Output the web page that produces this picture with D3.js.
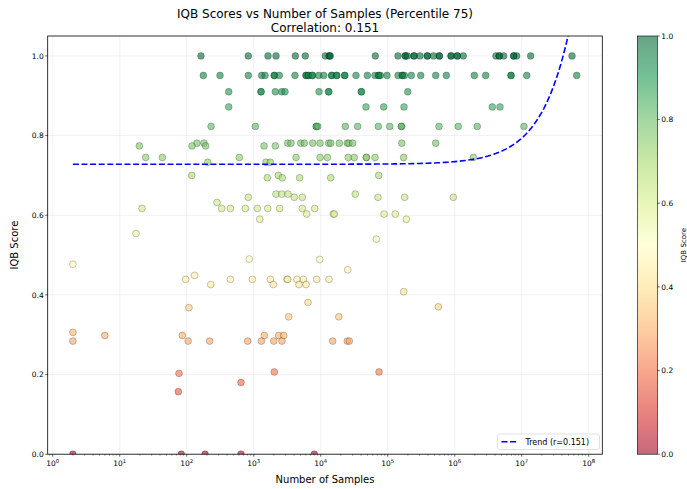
<!DOCTYPE html>
<html><head><meta charset="utf-8">
<script src="https://cdn.jsdelivr.net/npm/d3@7"></script>
<style>
body{margin:0;background:#fff}
svg{display:block}
text{font-family:"DejaVu Sans",sans-serif;fill:#000}
</style>
</head><body>
<svg id="chart" width="687" height="489"></svg>
<script>
// ---------------- data ----------------
const titleLines = ["IQB Scores vs Number of Samples (Percentile 75)", "Correlation: 0.151"];
const xLabel = "Number of Samples";
const yLabel = "IQB Score";
const cbarLabel = "IQB Score";
const legendLabel = "Trend (r=0.151)";

// IQB score of each row of points
const scoreRows = [1.0, 0.951, 0.91, 0.872, 0.823, 0.781, 0.774, 0.745, 0.733, 0.70, 0.694,
  0.653, 0.645, 0.632, 0.617, 0.603, 0.59, 0.554, 0.54, 0.49, 0.489, 0.477, 0.463, 0.449,
  0.439, 0.426, 0.408, 0.381, 0.370, 0.368, 0.345, 0.306, 0.298, 0.284, 0.2065, 0.203,
  0.18, 0.157, 0.0];
// number of samples of the points in each row (same order as scoreRows)
const samplesByRow = [
  [163, 830, 1633, 2153, 4180, 5890, 11720, 13430, 13430, 13900, 65300, 142500, 183000, 183000,
   196000, 247000, 247000, 303000, 390000, 390000, 480000, 589000, 589000, 881000, 881000,
   1094000, 1094000, 1343000, 4130000, 4630000, 4630000, 5390000, 7600000, 7600000, 8420000,
   13600000, 56300000],
  [177, 314, 830, 1315, 1476, 2028, 2028, 2410, 4130, 6040, 6040, 6530, 6530, 7500, 7500, 9330,
   11090, 14590, 14590, 17340, 17340, 22800, 22800, 33600, 49700, 64600, 73400, 73400, 77600,
   97700, 142600, 165600, 165600, 177400, 225000, 311000, 520000, 750000, 1963000, 2900000,
   6920000, 6920000, 11900000, 66200000],
  [424, 1285, 1285, 2100, 2620, 2930, 9440, 13160, 13160, 40400, 40400, 199000],
  [424, 47400, 87100, 175000, 3640000, 4740000],
  [231, 1057, 8590, 8590, 9020, 23300, 35600, 72400, 107000, 160000, 160000, 583000, 1130000,
   2170000, 10800000],
  [142, 181, 3220, 3600, 5030, 5690, 7600, 9770, 13160, 14100, 18970, 24950, 26400, 30000,
   162000, 520000],
  [19.6, 120, 192, 1425, 2100],
  [24.4, 43.3, 610, 4280, 9770, 12560, 25800, 31700, 48000, 48000, 64600, 173000, 1900000],
  [206, 1527, 1770],
  [119, 2330, 73400],
  [1596, 2670, 4860, 14100],
  [2150, 2620, 3250, 32800],
  [830, 4040, 5310, 71600, 179000, 953000],
  [283],
  [21.5, 333, 448, 750, 1132, 1618, 2440, 5310, 8130],
  [6180, 15400, 15960, 88100, 129800],
  [1230, 190000],
  [17.5],
  [67600],
  [859],
  [9660],
  [2],
  [25300],
  [131],
  [96.6, 448, 953, 1770, 3140, 3220, 4430, 5510, 8710, 13300],
  [228, 1960, 4740, 6040],
  [173000],
  [6460],
  [569000],
  [108],
  [3330, 18600],
  [2],
  [6, 86, 1440, 2360, 2800],
  [2, 105, 220, 813, 1300, 1990, 2640, 15100, 24900, 26700],
  [2030, 74100],
  [76.7],
  [646],
  [75],
  [2, 83, 188, 646, 8030]
];
const yTicks = [0.0, 0.2, 0.4, 0.6, 0.8, 1.0];
const xTickExponents = [0, 1, 2, 3, 4, 5, 6, 7, 8];
const cbarTicks = [0.0, 0.2, 0.4, 0.6, 0.8, 1.0];
// fitted linear trend: score = intercept + slope * samples
const trendIntercept = 0.728;
const trendSlope = 6.55e-9;
// RdYlGn colour stops
const rdylgn = ["#a50026","#d73027","#f46d43","#fdae61","#fee08b","#ffffbf",
                "#d9ef8b","#a6d96a","#66bd63","#1a9850","#006837"];

// ---------------- layout ----------------
const m = {left: 47.7, right: 602.3, top: 36, bottom: 454.2};
const cb = {x0: 637.3, x1: 657.3};

const svg = d3.select("#chart");
const x = d3.scaleLog().domain([Math.pow(10, -0.075), Math.pow(10, 8.203)]).range([m.left, m.right]);
const y = d3.scaleLinear().domain([0, 1.05]).range([m.bottom, m.top]);
const color = d3.scaleLinear().domain(d3.range(11).map(i => i / 10)).range(rdylgn).interpolate(d3.interpolateRgb).clamp(true);

const points = [];
scoreRows.forEach((s, i) => samplesByRow[i].forEach(n => points.push({n, s})));

// clip
svg.append("defs").append("clipPath").attr("id", "clip")
  .append("rect").attr("x", m.left).attr("y", m.top).attr("width", m.right - m.left).attr("height", m.bottom - m.top);

// grid
const grid = svg.append("g").attr("stroke", "#b0b0b0").attr("stroke-opacity", 0.3).attr("stroke-width", 0.6);
xTickExponents.forEach(e => {
  const px = x(Math.pow(10, e));
  grid.append("line").attr("x1", px).attr("x2", px).attr("y1", m.top).attr("y2", m.bottom);
});
yTicks.forEach(t => {
  grid.append("line").attr("x1", m.left).attr("x2", m.right).attr("y1", y(t)).attr("y2", y(t));
});

// points
svg.append("g").attr("clip-path", "url(#clip)")
  .selectAll("circle").data(points).join("circle")
  .attr("cx", d => x(d.n)).attr("cy", d => y(d.s)).attr("r", 3.4)
  .attr("fill", d => color(d.s)).attr("fill-opacity", 0.6)
  .attr("stroke", "#000").attr("stroke-opacity", 0.45).attr("stroke-width", 0.5);

// trend line
const allN = points.map(p => p.n);
const nMin = d3.min(allN), nMax = d3.max(allN);
const trendX = d3.range(200).map(i => Math.pow(10, Math.log10(nMin) + (Math.log10(nMax) - Math.log10(nMin)) * i / 199));
svg.append("path").attr("clip-path", "url(#clip)")
  .datum(trendX)
  .attr("d", d3.line().x(d => x(d)).y(d => y(trendIntercept + trendSlope * d)))
  .attr("fill", "none").attr("stroke", "#0000ff").attr("stroke-width", 1.6)
  .attr("stroke-dasharray", "6,2.6");

// axes frame
svg.append("rect").attr("x", m.left).attr("y", m.top).attr("width", m.right - m.left).attr("height", m.bottom - m.top)
  .attr("fill", "none").attr("stroke", "#000").attr("stroke-width", 0.8);

// x ticks
const xt = svg.append("g");
xTickExponents.forEach(e => {
  const px = x(Math.pow(10, e));
  xt.append("line").attr("x1", px).attr("x2", px).attr("y1", m.bottom).attr("y2", m.bottom + 2.5).attr("stroke", "#000").attr("stroke-width", 0.6);
  const t = xt.append("text").attr("x", px).attr("y", m.bottom + 12).attr("text-anchor", "middle").attr("font-size", 7.5);
  t.append("tspan").text("10");
  t.append("tspan").attr("dy", -3).attr("font-size", 5.3).text(e);
});
for (let e = -1; e <= 8; e++) {
  for (let k = 2; k <= 9; k++) {
    const v = k * Math.pow(10, e);
    if (v < x.domain()[0] || v > x.domain()[1]) continue;
    const px = x(v);
    xt.append("line").attr("x1", px).attr("x2", px).attr("y1", m.bottom).attr("y2", m.bottom + 1.4).attr("stroke", "#000").attr("stroke-width", 0.5);
  }
}
// y ticks
const yt = svg.append("g");
yTicks.forEach(t => {
  yt.append("line").attr("x1", m.left - 2.5).attr("x2", m.left).attr("y1", y(t)).attr("y2", y(t)).attr("stroke", "#000").attr("stroke-width", 0.6);
  yt.append("text").attr("x", m.left - 4).attr("y", y(t) + 2.7).attr("text-anchor", "end").attr("font-size", 7.5).text(t.toFixed(1));
});

// labels
svg.append("text").attr("x", (m.left + m.right) / 2).attr("y", 483).attr("text-anchor", "middle").attr("font-size", 10).text(xLabel);
svg.append("text").attr("transform", `translate(18,${(m.top + m.bottom) / 2}) rotate(-90)`).attr("text-anchor", "middle").attr("font-size", 10).text(yLabel);
titleLines.forEach((l, i) => {
  svg.append("text").attr("x", (m.left + m.right) / 2).attr("y", 18 + i * 13.5).attr("text-anchor", "middle").attr("font-size", 12).text(l);
});

// legend
const lg = svg.append("g");
lg.append("rect").attr("x", 497.5).attr("y", 434).attr("width", 102).attr("height", 15.5).attr("rx", 2)
  .attr("fill", "#fff").attr("fill-opacity", 0.8).attr("stroke", "#cccccc").attr("stroke-width", 0.6);
lg.append("line").attr("x1", 501.5).attr("x2", 517.5).attr("y1", 441.8).attr("y2", 441.8)
  .attr("stroke", "#0000ff").attr("stroke-width", 1.6).attr("stroke-dasharray", "6,2.6");
lg.append("text").attr("x", 525.5).attr("y", 444.7).attr("font-size", 8).text(legendLabel);

// colorbar
const grad = svg.select("defs").append("linearGradient").attr("id", "cbg").attr("x1", 0).attr("y1", 1).attr("x2", 0).attr("y2", 0);
rdylgn.forEach((c, i) => grad.append("stop").attr("offset", i / 10).attr("stop-color", c));
const cy = d3.scaleLinear().domain([0, 1]).range([m.bottom, m.top]);
svg.append("rect").attr("x", cb.x0).attr("y", m.top).attr("width", cb.x1 - cb.x0).attr("height", m.bottom - m.top)
  .attr("fill", "url(#cbg)").attr("fill-opacity", 0.6);
svg.append("rect").attr("x", cb.x0).attr("y", m.top).attr("width", cb.x1 - cb.x0).attr("height", m.bottom - m.top)
  .attr("fill", "none").attr("stroke", "#000").attr("stroke-width", 0.6);
cbarTicks.forEach(t => {
  svg.append("line").attr("x1", cb.x1).attr("x2", cb.x1 + 2.5).attr("y1", cy(t)).attr("y2", cy(t)).attr("stroke", "#000").attr("stroke-width", 0.6);
  svg.append("text").attr("x", cb.x1 + 4).attr("y", cy(t) + 2.7).attr("font-size", 7.5).text(t.toFixed(1));
});
svg.append("text").attr("transform", `translate(685.5,${(m.top + m.bottom) / 2}) rotate(-90)`).attr("text-anchor", "middle").attr("font-size", 7).text(cbarLabel);
</script>
</body></html>
